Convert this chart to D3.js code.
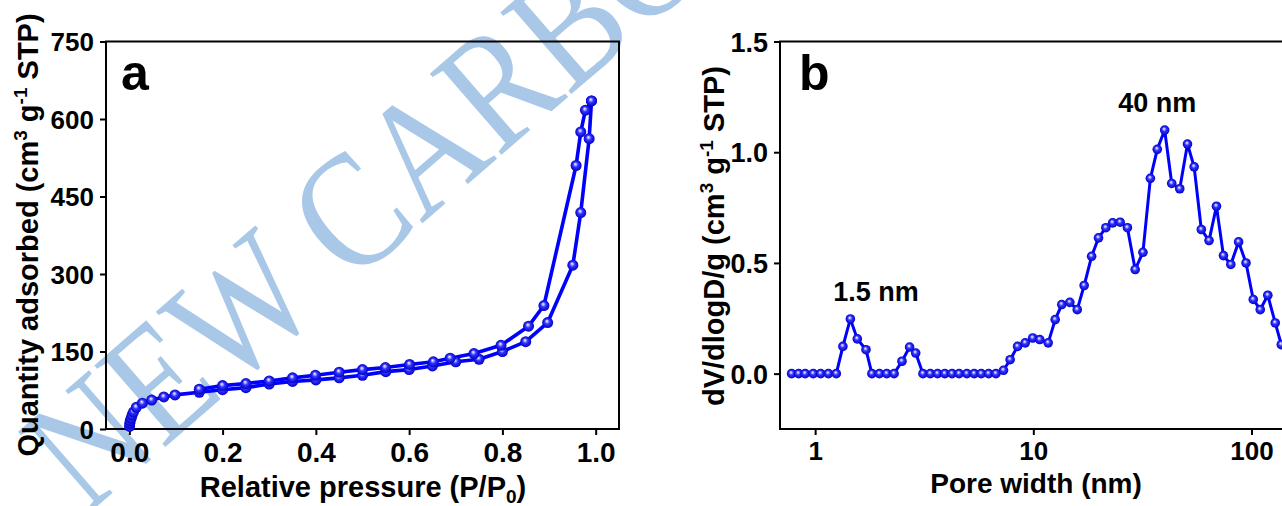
<!DOCTYPE html>
<html><head><meta charset="utf-8">
<script src="https://cdn.jsdelivr.net/npm/d3@7"></script>
<style>
body{margin:0;background:#fff;}
svg text{font-family:"Liberation Sans",Arial,sans-serif;font-weight:bold;fill:#000;}
</style></head>
<body>
<svg id="chart" width="1282" height="506"></svg>
<script>
// ---- Panel a: N2 isotherm ----
const adsP = [0.0005,0.001,0.002,0.004,0.006,0.009,0.015,0.028,0.048,0.074,0.098,0.15,0.2,0.25,0.3,0.35,0.4,0.45,0.5,0.55,0.6,0.65,0.7,0.75,0.8,0.85,0.897,0.951,0.968,0.986,0.991];
const adsV = [5,11,16,21,27,33,42,50,56,62,66,71,76,80,87,92,95,99,104,111,115,122,130,135,150,169,206,317,419,562,635];
const desP = [0.991,0.978,0.968,0.958,0.889,0.856,0.797,0.739,0.688,0.652,0.601,0.549,0.5,0.45,0.399,0.35,0.3,0.25,0.2,0.15];
const desV = [635,617,575,510,239,199,162,146,137,130,125,119,115,110,104,99,93,88,84,77];
const xTicksA = [0,0.2,0.4,0.6,0.8,1.0];
const xMinorA = [0.1,0.3,0.5,0.7,0.9];
const yTicksA = [0,150,300,450,600,750];
const yMinorA = [75,225,375,525,675];

// ---- Panel b: pore size distribution ----
const poreW = [0.78,0.84,0.90,0.98,1.06,1.15,1.25,1.34,1.45,1.56,1.71,1.82,1.97,2.13,2.30,2.50,2.71,2.89,3.12,3.37,3.64,3.93,4.24,4.57,4.96,5.36,5.77,6.24,6.74,7.30,7.83,8.47,9.18,9.94,10.7,11.7,12.6,13.5,14.7,15.9,17.1,18.5,19.9,21.5,23.1,25.0,27.0,29.3,31.8,34.4,37.0,40.0,43.1,46.9,50.9,54.6,58.9,63.9,69.1,74.4,80.4,87.3,94.4,101.9,109.7,118.8,128.5,137];
const poreV = [0,0,0,0,0,0,0,0.123,0.247,0.157,0.108,0,0,0,0,0.056,0.12,0.093,0,0,0,0,0,0,0,0,0,0,0,0.015,0.063,0.123,0.139,0.161,0.154,0.139,0.244,0.312,0.322,0.289,0.398,0.53,0.613,0.659,0.681,0.684,0.659,0.47,0.548,0.882,1.013,1.10,0.859,0.835,1.037,0.934,0.651,0.601,0.756,0.533,0.493,0.595,0.50,0.335,0.289,0.354,0.229,0.131];
const xTicksB = [1,10,100];
const xMinorB = [0.7,0.8,0.9,2,3,4,5,6,7,8,9,20,30,40,50,60,70,80,90,200];
const yTicksB = [0,0.5,1.0,1.5];
const yMinorB = [-0.25,0.25,0.75,1.25];
const annotB = [{t:"1.5 nm", x:1.9, y:0.33},{t:"40 nm", x:37, y:1.18}];
const watermark = "NEW CARBON";

const svg = d3.select("#chart");
const blue = "#0000ff";

// gradient for sphere markers
const defs = svg.append("defs");
const g1 = defs.append("radialGradient").attr("id","ball").attr("cx","0.5").attr("cy","0.5").attr("r","0.5").attr("fx","0.42").attr("fy","0.35");
[["0","#f2f2ff"],["0.18","#b8b8ff"],["0.45","#3434ff"],["1","#0000c8"]].forEach(s=>g1.append("stop").attr("offset",s[0]).attr("stop-color",s[1]));

// watermark (background)
svg.append("text").text(watermark)
  .attr("transform","translate(86,516) rotate(-41) scale(1,1.18)")
  .style("font-family","'Liberation Serif','Times New Roman',serif")
  .style("font-weight","normal").style("font-size","140px").style("fill","#a9c8e8");

function drawAxes(x, y, xt, xm, yt, ym, fx, fy, box, xfs, yfs){
  const [L,R,T,B] = box;
  const gx = svg.append("g").attr("transform",`translate(0,${B})`);
  gx.call(d3.axisBottom(x).tickValues(xm).tickSize(4).tickFormat("").tickSizeOuter(0));
  gx.call(d3.axisBottom(x).tickValues(xt).tickSize(6).tickFormat(fx).tickSizeOuter(0).tickPadding(7));
  const gy = svg.append("g").attr("transform",`translate(${L},0)`);
  gy.call(d3.axisLeft(y).tickValues(ym).tickSize(4).tickFormat("").tickSizeOuter(0));
  gy.call(d3.axisLeft(y).tickValues(yt).tickSize(6).tickFormat(fy).tickSizeOuter(0).tickPadding(6));
  [gx,gy].forEach(g=>{g.selectAll("path.domain").remove();g.selectAll("line").attr("stroke","#000").attr("stroke-width",2);});
  gx.selectAll("text").style("font-size",xfs+"px").attr("dy","0.71em");
  gy.selectAll("text").style("font-size",yfs+"px").attr("dy","0.36em");
  // frame
  svg.append("path").attr("d",`M${L},${B}H${R}V${T}H${L}Z`).attr("fill","none").attr("stroke","#000").attr("stroke-width",2);
}

// ---------- Panel a ----------
const boxA = [106,619,41.5,429];
const xA = d3.scaleLinear().domain([-0.05,1.05]).range([boxA[0],boxA[1]]);
const yA = d3.scaleLinear().domain([0,750]).range([boxA[3],boxA[2]]);
drawAxes(xA,yA,xTicksA,xMinorA,yTicksA,yMinorA,d3.format(".1f"),d3.format("d"),boxA,28,26);

const lineA = d3.line().x(d=>xA(d[0])).y(d=>yA(d[1]));
const ads = adsP.map((p,i)=>[p,adsV[i]]);
const des = desP.map((p,i)=>[p,desV[i]]);
[ads,des].forEach(s=>svg.append("path").attr("d",lineA(s)).attr("fill","none").attr("stroke",blue).attr("stroke-width",3.6).attr("stroke-linejoin","round"));
[ads,des].forEach(s=>svg.append("g").selectAll("circle").data(s).join("circle")
  .attr("cx",d=>xA(d[0])).attr("cy",d=>yA(d[1])).attr("r",5.5).attr("fill","url(#ball)"));

svg.append("text").attr("x",121).attr("y",90).style("font-size","50px").text("a");
// axis titles a
const tA = svg.append("text").attr("transform","translate(363,497)").attr("text-anchor","middle").style("font-size","29px");
tA.append("tspan").text("Relative pressure (P/P");
tA.append("tspan").attr("dy",6).style("font-size","19px").text("0");
tA.append("tspan").attr("dy",-6).text(")");
const yTA = svg.append("text").attr("transform","translate(38,235) rotate(-90)").attr("text-anchor","middle").style("font-size","29px");
yTA.append("tspan").text("Quantity adsorbed (cm");
yTA.append("tspan").attr("dy",-11).style("font-size","19px").text("3");
yTA.append("tspan").attr("dy",11).text(" g");
yTA.append("tspan").attr("dy",-11).style("font-size","19px").text("-1");
yTA.append("tspan").attr("dy",11).text(" STP)");

// ---------- Panel b ----------
const boxB = [780,1293,41.5,429];
const xB = d3.scaleLog().domain([0.69,155]).range([boxB[0],boxB[1]]);
const yB = d3.scaleLinear().domain([-0.25,1.5]).range([boxB[3],boxB[2]]);
drawAxes(xB,yB,xTicksB,xMinorB.filter(v=>v>=0.69&&v<=155),yTicksB,yMinorB,d3.format("d"),d3.format(".1f"),boxB,26,27);

const lineB = d3.line().x(d=>xB(d[0])).y(d=>yB(d[1]));
const pore = poreW.map((w,i)=>[w,poreV[i]]);
svg.append("path").attr("d",lineB(pore)).attr("fill","none").attr("stroke",blue).attr("stroke-width",3).attr("stroke-linejoin","round");
svg.append("g").selectAll("circle").data(pore).join("circle")
  .attr("cx",d=>xB(d[0])).attr("cy",d=>yB(d[1])).attr("r",4.8).attr("fill","url(#ball)");

svg.append("text").attr("x",799).attr("y",90).style("font-size","50px").text("b");
svg.selectAll("text.ann").data(annotB).join("text").attr("class","ann")
  .attr("x",d=>xB(d.x)).attr("y",d=>yB(d.y)).attr("text-anchor","middle").style("font-size","27px").text(d=>d.t);

svg.append("text").attr("transform","translate(1036,493)").attr("text-anchor","middle").style("font-size","28px").text("Pore width (nm)");
const yTB = svg.append("text").attr("transform","translate(724,236) rotate(-90)").attr("text-anchor","middle").style("font-size","29px");
yTB.append("tspan").text("dV/dlogD/g (cm");
yTB.append("tspan").attr("dy",-11).style("font-size","19px").text("3");
yTB.append("tspan").attr("dy",11).text(" g");
yTB.append("tspan").attr("dy",-11).style("font-size","19px").text("-1");
yTB.append("tspan").attr("dy",11).text(" STP)");
</script>
</body></html>
